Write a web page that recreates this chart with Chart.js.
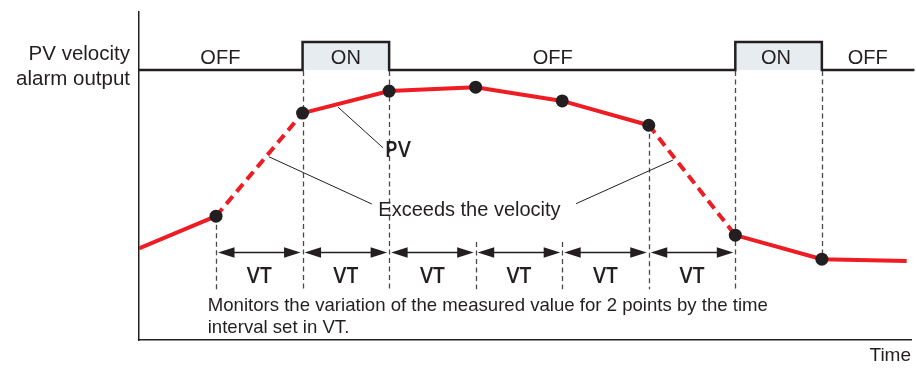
<!DOCTYPE html>
<html>
<head>
<meta charset="utf-8">
<title>PV velocity alarm</title>
<script src="https://cdn.jsdelivr.net/npm/chart.js@4.4.1/dist/chart.umd.min.js"></script>
<style>
  html, body { margin: 0; padding: 0; background: #fff; }
  canvas { display: block; }
</style>
</head>
<body>
<canvas id="chart" width="916" height="368"></canvas>
<script>
// PV samples, one every VT (time axis in VT units)
const pvTimes = [0.11, 1, 2, 3, 4, 5, 6, 7, 8, 8.98];
const pvValues = [28.0, 37.8, 69.2, 75.9, 77.1, 72.9, 65.5, 32.0, 24.7, 24.1];
// segments (start index) where the change exceeds the velocity setting
const exceedFrom = [1, 6];

// alarm output: switching times and the state after each switch
const alarmTimes = [0.11, 2, 3, 7, 8, 9.07];
const alarmStates = [0, 1, 0, 1, 0, 0];
const alarmLabels = ["OFF", "ON", "OFF", "ON", "OFF"];
const alarmLabelTimes = [1.05, 2.5, 4.89, 7.47, 8.53];

// VT intervals are measured between these sample indexes
const vtFirst = 1;
const vtLast = 7;

const INK = "#231f20";
const RED = "#ee1d23";
const TEXT_FONT = "Liberation Sans, Arial, sans-serif";
const LABEL_FONT = "'Open Sans', sans-serif";

// annotation lines and notes, placed in (time, PV) units
const arrowLevel = 26.8;
const guideFloor = 15.5;
const guideCeil = 29.9;
const vtLevel = 17.3;
const leaders = [
  [[2.41, 71.0], [2.93, 58.6]],
  [[1.61, 55.9], [2.80, 41.5]],
  [[5.16, 41.6], [6.28, 54.9]],
];
const notes = [
  { text: "PV", t: 2.95, v: 55.7, font: "600 21px " + LABEL_FONT },
  { text: "Exceeds the velocity", t: 2.875, v: 37.8, font: "20px " + TEXT_FONT },
  { text: "Monitors the variation of the measured value for 2 points by the time", t: 0.904, v: 8.93, font: "18.6px " + TEXT_FONT },
  { text: "interval set in VT.", t: 0.904, v: 2.23, font: "18.6px " + TEXT_FONT },
];

const pvData = pvTimes.map((t, i) => ({ x: t, y: pvValues[i] }));
const alarmData = alarmTimes.map((t, i) => ({ x: t, y: alarmStates[i] }));

function arrowHead(ctx, tipX, y, dir) {
  ctx.beginPath();
  ctx.moveTo(tipX, y);
  ctx.lineTo(tipX + dir * 16.5, y - 5.2);
  ctx.lineTo(tipX + dir * 16.5, y + 5.2);
  ctx.closePath();
  ctx.fill();
}

const diagram = {
  id: "diagram",
  beforeDatasetsDraw(chart) {
    const { ctx, scales: { x, y, y2 } } = chart;
    const offLine = y2.getPixelForValue(0);
    ctx.save();
    ctx.strokeStyle = "#4a4a4c";
    ctx.lineWidth = 1.3;
    ctx.setLineDash([5, 3.5]);
    for (let i = vtFirst; i <= pvTimes.length - 2; i++) {
      const px = Math.round(x.getPixelForValue(pvTimes[i])) + 0.5;
      let top;
      if (alarmTimes.includes(pvTimes[i])) top = offLine + 1;
      else if (exceedFrom.includes(i)) top = y.getPixelForValue(pvValues[i]);
      else top = y.getPixelForValue(guideCeil);
      const bottom = i > vtLast ? y.getPixelForValue(pvValues[i]) : y.getPixelForValue(guideFloor);
      ctx.beginPath();
      ctx.moveTo(px, top);
      ctx.lineTo(px, bottom);
      ctx.stroke();
    }
    ctx.restore();
  },
  afterDatasetsDraw(chart) {
    const { ctx, chartArea, scales: { x, y, y2 } } = chart;
    ctx.save();
    ctx.fillStyle = INK;
    ctx.strokeStyle = INK;

    // VT interval arrows
    const ay = Math.round(y.getPixelForValue(arrowLevel)) + 0.5;
    ctx.lineWidth = 1.5;
    ctx.font = "600 21px " + LABEL_FONT;
    ctx.textAlign = "center";
    ctx.textBaseline = "alphabetic";
    for (let i = vtFirst; i < vtLast; i++) {
      const x0 = x.getPixelForValue(pvTimes[i]) + 2;
      const x1 = x.getPixelForValue(pvTimes[i + 1]) - 2;
      ctx.beginPath();
      ctx.moveTo(x0 + 8, ay);
      ctx.lineTo(x1 - 8, ay);
      ctx.stroke();
      arrowHead(ctx, x0, ay, 1);
      arrowHead(ctx, x1, ay, -1);
      ctx.fillText("VT", (x0 + x1) / 2, y.getPixelForValue(vtLevel));
    }

    // leader lines
    ctx.lineWidth = 1;
    leaders.forEach(([a, b]) => {
      ctx.beginPath();
      ctx.moveTo(x.getPixelForValue(a[0]), y.getPixelForValue(a[1]));
      ctx.lineTo(x.getPixelForValue(b[0]), y.getPixelForValue(b[1]));
      ctx.stroke();
    });

    // notes
    ctx.textAlign = "left";
    notes.forEach(n => {
      ctx.font = n.font;
      ctx.fillText(n.text, x.getPixelForValue(n.t), y.getPixelForValue(n.v));
    });

    // alarm state labels
    const offLine = y2.getPixelForValue(0);
    const onLine = y2.getPixelForValue(1);
    ctx.font = "20px " + TEXT_FONT;
    ctx.textAlign = "center";
    alarmLabels.forEach((s, i) => {
      ctx.fillText(s, x.getPixelForValue(alarmLabelTimes[i]), (offLine + onLine) / 2 + 8);
    });

    // row title on the left
    ctx.textAlign = "right";
    ctx.font = "20.5px " + TEXT_FONT;
    ctx.fillText("PV velocity", chartArea.left - 9, offLine - 10);
    ctx.fillText("alarm output", chartArea.left - 9, offLine + 14.5);
    ctx.restore();
  },
};

new Chart(document.getElementById("chart"), {
  type: "scatter",
  data: {
    datasets: [
      {
        label: "PV",
        data: pvData,
        showLine: true,
        borderColor: RED,
        borderWidth: 4,
        borderCapStyle: "butt",
        pointRadius: pvTimes.map((t, i) => (i === 0 || i === pvTimes.length - 1 ? 0 : 6.5)),
        pointHoverRadius: 0,
        pointBackgroundColor: INK,
        pointBorderWidth: 0,
        segment: {
          borderDash: (c) => (exceedFrom.includes(c.p0DataIndex) ? [10, 6] : undefined),
        },
      },
      {
        label: "PV velocity alarm output",
        data: alarmData,
        yAxisID: "y2",
        showLine: true,
        stepped: true,
        borderColor: INK,
        borderWidth: 2.5,
        pointRadius: 0,
        fill: { value: 0 },
        backgroundColor: "#e7ecf0",
        clip: false,
      },
    ],
  },
  options: {
    responsive: false,
    animation: false,
    events: [],
    layout: { padding: { left: 139, right: 5, top: 12, bottom: 0 } },
    plugins: { legend: { display: false }, tooltip: { enabled: false } },
    scales: {
      x: {
        type: "linear",
        min: 0.11,
        max: 9.03,
        grid: { display: false, drawTicks: false },
        ticks: { display: false },
        border: { display: true, color: INK, width: 1.5 },
        title: {
          display: true,
          text: "Time",
          align: "end",
          color: INK,
          font: { family: TEXT_FONT, size: 19 },
          padding: { top: 4, bottom: 1 },
        },
      },
      y: {
        min: 0,
        max: 100,
        grid: { display: false, drawTicks: false },
        ticks: { display: false },
        border: { display: true, color: INK, width: 1.5 },
      },
      y2: {
        display: false,
        min: -9.64,
        max: 2.07,
      },
    },
  },
  plugins: [diagram],
});
</script>
</body>
</html>
